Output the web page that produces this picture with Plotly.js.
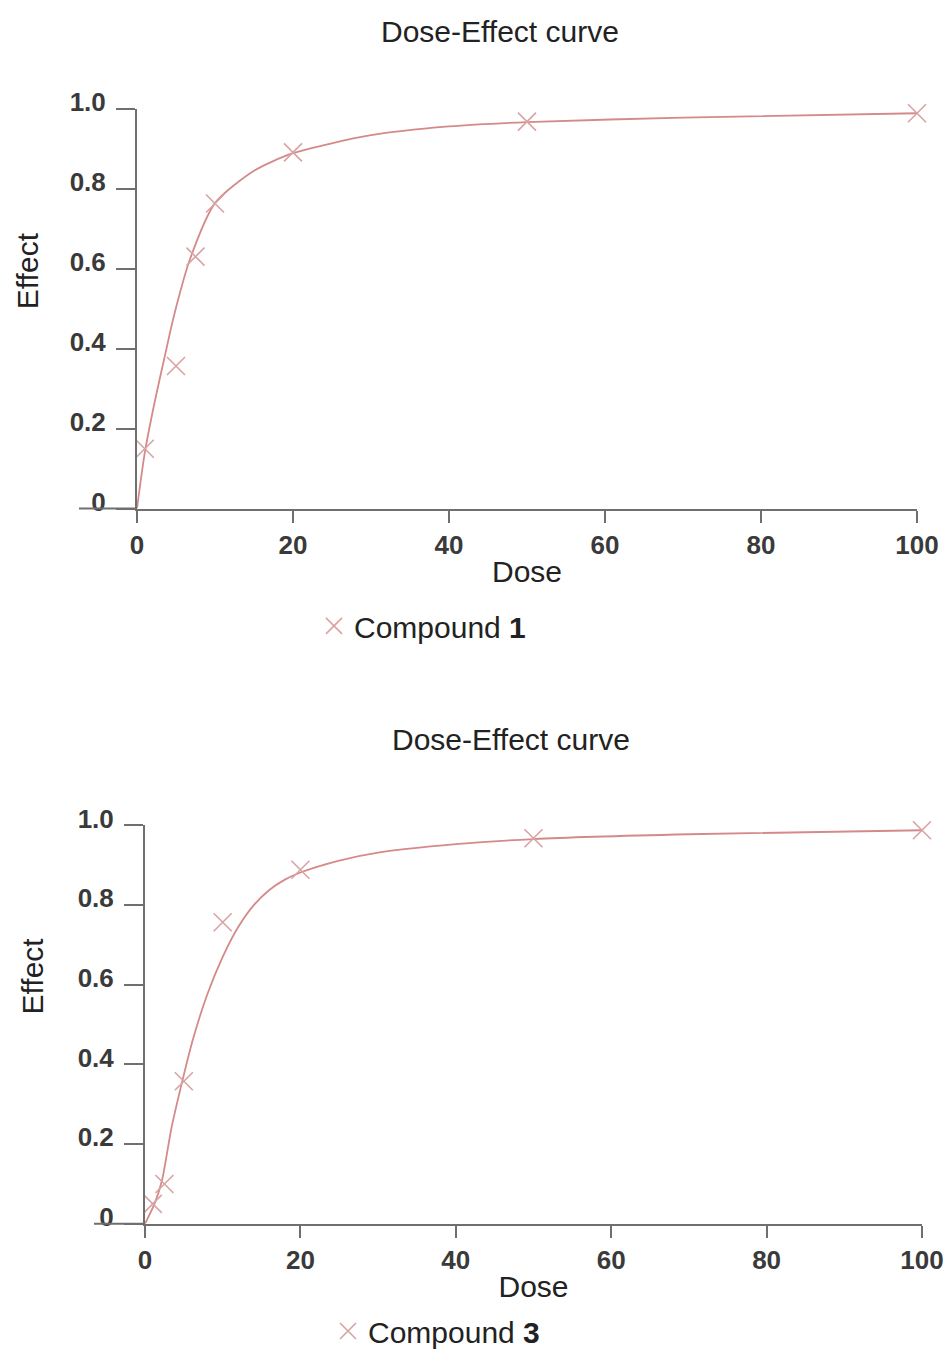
<!DOCTYPE html>
<html>
<head>
<meta charset="utf-8">
<script src="https://cdn.plot.ly/plotly-3.0.1.min.js"></script>
<style>html,body{margin:0;padding:0;background:#fff;}#chart{width:949px;height:1357px;}</style>
</head>
<body>
<div id="chart"></div>
<script>
// ---- data ----
const chartTitles = ["Dose-Effect curve", "Dose-Effect curve"];
const xAxisTitle = "Dose";
const yAxisTitle = "Effect";
const seriesNames = ["Compound <b>1</b>", "Compound <b>3</b>"];

const xTickVals = [0, 20, 40, 60, 80, 100];
const xTickText = ["0", "20", "40", "60", "80", "100"];
const yTickVals = [0, 0.2, 0.4, 0.6, 0.8, 1.0];
const yTickText = ["0", "0.2", "0.4", "0.6", "0.8", "1.0"];

// Compound 1 observed points
const dose1 = [1, 5, 7.5, 10, 20, 50, 100];
const effect1 = [0.15, 0.357, 0.631, 0.764, 0.892, 0.969, 0.990];
// Compound 1 fitted curve
const fitDose1 = [0, 1, 2.3, 3.6, 4.7, 6.8, 10, 15, 20, 30, 40, 50, 70, 100];
const fitEffect1 = [0, 0.14, 0.27, 0.385, 0.48, 0.625, 0.765, 0.846, 0.89, 0.935, 0.957, 0.968, 0.979, 0.990];

// Compound 3 observed points
const dose3 = [1, 2.5, 5, 10, 20, 50, 100];
const effect3 = [0.05, 0.10, 0.358, 0.757, 0.889, 0.968, 0.988];
// Compound 3 fitted curve
const fitDose3 = [0, 1.3, 2.2, 3.4, 4.7, 6.2, 8, 10, 12, 14, 16, 18, 20, 25, 30, 40, 50, 70, 100];
const fitEffect3 = [0, 0.054, 0.11, 0.24, 0.35, 0.465, 0.575, 0.67, 0.745, 0.80, 0.838, 0.864, 0.882, 0.912, 0.932, 0.953, 0.966, 0.978, 0.988];

// ---- styling ----
const W = 949, H = 1357;
const textFamily = "Liberation Sans, Arial, sans-serif";
const lineCol = "#d48a8a";
const markCol = "#d9a3a3";
const axisCol = "#6f6f6f";
const tickFont = {family: textFamily, size: 26, color: "#3a3a3a", weight: "bold"};
const px = v => v / W;
const py = v => 1 - v / H;

const panels = [
  {x0: 137, x1: 917, yTop: 110, yBot: 512, xExt: 79, title: [500, 32], ytitle: [27, 273], legend: [314, 630]},
  {x0: 145, x1: 922, yTop: 831, yBot: 1232, xExt: 94, title: [511, 744], ytitle: [32, 982], legend: [328, 1340]}
];

const fitLine = {color: lineCol, width: 1.8, shape: "spline", smoothing: 0.7};
const markStyle = {symbol: "x-thin", size: 18, line: {color: markCol, width: 1.6}, color: markCol};

const data = [
  {x: fitDose1, y: fitEffect1, mode: "lines", line: fitLine,
   xaxis: "x", yaxis: "y", showlegend: false, hoverinfo: "skip"},
  {x: dose1, y: effect1, mode: "markers", name: seriesNames[0], cliponaxis: false,
   marker: markStyle, xaxis: "x", yaxis: "y", legend: "legend"},
  {x: fitDose3, y: fitEffect3, mode: "lines", line: fitLine,
   xaxis: "x2", yaxis: "y2", showlegend: false, hoverinfo: "skip"},
  {x: dose3, y: effect3, mode: "markers", name: seriesNames[1], cliponaxis: false,
   marker: markStyle, xaxis: "x2", yaxis: "y2", legend: "legend2"}
];

function xAxis(p, anchor) {
  return {
    domain: [px(p.x0), px(p.x1)], range: [0, 100], anchor: anchor,
    showline: true, linecolor: axisCol, linewidth: 2, mirror: false,
    ticks: "outside", ticklen: 12, tickwidth: 2, tickcolor: axisCol,
    tickmode: "array", tickvals: xTickVals, ticktext: xTickText, tickfont: tickFont,
    showgrid: false, zeroline: false, fixedrange: true,
    title: {text: xAxisTitle, font: {family: textFamily, size: 30, color: "#222"}, standoff: 2}
  };
}
function yAxis(p, anchor) {
  return {
    domain: [py(p.yBot), py(p.yTop)], range: [0, 1], anchor: anchor,
    showline: true, linecolor: axisCol, linewidth: 2,
    ticks: "outside", ticklen: 19, tickwidth: 2, tickcolor: axisCol,
    tickmode: "array", tickvals: yTickVals, ticktext: yTickText, tickfont: tickFont,
    ticklabelshift: -7, ticklabelstandoff: 5,
    showgrid: false, zeroline: false, fixedrange: true
  };
}

const annotations = [];
const shapes = [];
panels.forEach((p, i) => {
  annotations.push({xref: "paper", yref: "paper", x: px(p.title[0]), y: py(p.title[1]),
    xanchor: "center", yanchor: "middle", showarrow: false, text: chartTitles[i],
    font: {family: textFamily, size: 30, color: "#222"}});
  annotations.push({xref: "paper", yref: "paper", x: px(p.ytitle[0]), y: py(p.ytitle[1]),
    xanchor: "center", yanchor: "middle", showarrow: false, text: yAxisTitle, textangle: -90,
    font: {family: textFamily, size: 30, color: "#222"}});
  shapes.push({type: "line", xref: "paper", yref: "paper", x0: px(p.xExt), x1: px(p.x0),
    y0: py(p.yBot), y1: py(p.yBot), line: {color: axisCol, width: 2}});
});

const legendStyle = (p) => ({
  x: px(p.legend[0]), y: py(p.legend[1]), xanchor: "left", yanchor: "middle",
  bgcolor: "rgba(0,0,0,0)", font: {family: textFamily, size: 30, color: "#222"}
});

const layout = {
  width: W, height: H, margin: {l: 0, r: 0, t: 0, b: 0},
  paper_bgcolor: "#ffffff", plot_bgcolor: "#ffffff",
  xaxis: xAxis(panels[0], "y"), yaxis: yAxis(panels[0], "x"),
  xaxis2: xAxis(panels[1], "y2"), yaxis2: yAxis(panels[1], "x2"),
  legend: legendStyle(panels[0]), legend2: legendStyle(panels[1]),
  annotations: annotations, shapes: shapes, showlegend: true
};

Plotly.newPlot("chart", data, layout, {displayModeBar: false, staticPlot: true});
</script>
</body>
</html>
